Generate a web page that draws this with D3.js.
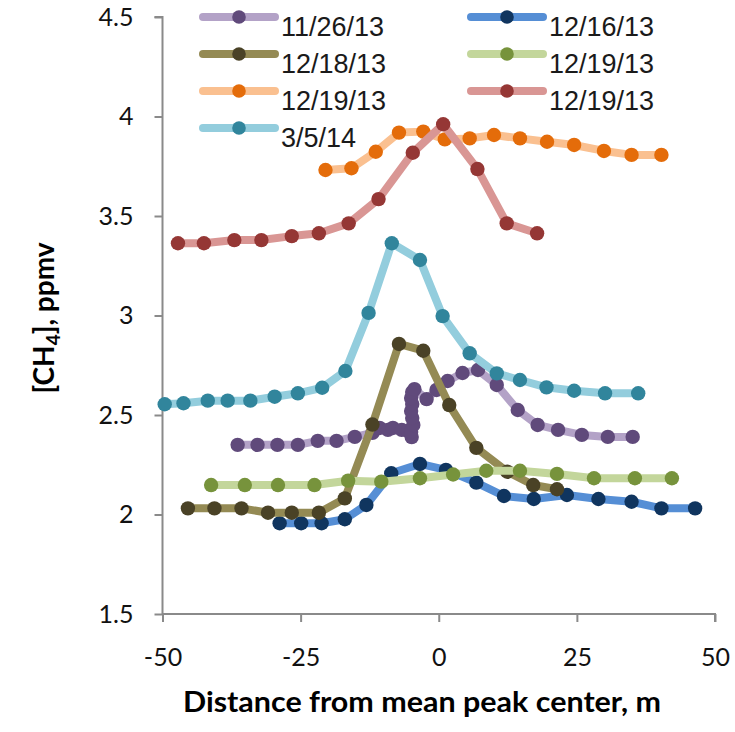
<!DOCTYPE html>
<html>
<head>
<meta charset="utf-8">
<script src="https://cdn.jsdelivr.net/npm/d3@7"></script>
<style>
  html, body { margin: 0; padding: 0; background: #fff; }
  svg { display: block; }
</style>
</head>
<body>
<div id="chart"></div>
<script>
// ---------------- data ----------------
const seriesNames = ["11/26/13", "12/16/13", "12/18/13", "12/19/13", "12/19/13", "12/19/13", "3/5/14"];

const x_1126 = [-36.4,-32.8,-29.2,-25.5,-21.9,-18.5,-15.2,-12.0,-10.7,-9.2,-8.3,-6.7,-5.6,-4.9,-5.0,-4.6,-4.8,-5.0,-4.8,-5.0,-4.8,-4.4,-2.2,-0.4,1.6,4.3,7.1,10.5,14.3,17.9,21.6,25.9,30.6,35.1];
const y_1126 = [2.35,2.35,2.35,2.35,2.37,2.37,2.39,2.41,2.435,2.425,2.435,2.425,2.42,2.389,2.415,2.45,2.485,2.52,2.555,2.585,2.615,2.63,2.58,2.626,2.671,2.711,2.726,2.651,2.525,2.45,2.425,2.40,2.39,2.39];

const x_1216 = [-28.8,-24.9,-21.2,-17.0,-13.1,-8.6,-3.4,1.3,6.8,11.8,17.2,23.2,28.9,34.9,40.3,46.4];
const y_1216 = [1.956,1.956,1.956,1.976,2.048,2.207,2.254,2.224,2.160,2.093,2.078,2.098,2.078,2.064,2.031,2.031];

const x_1218 = [-45.4,-40.6,-35.7,-30.9,-26.6,-21.7,-17.0,-12.0,-7.2,-2.8,1.9,6.8,12.4,17.1,21.4];
const y_1218 = [2.031,2.031,2.031,2.009,2.009,2.009,2.081,2.452,2.857,2.823,2.550,2.335,2.215,2.148,2.127];

const x_1219a = [-41.2,-35.1,-29.1,-22.5,-16.4,-10.4,-3.4,2.6,8.6,14.7,21.4,28.1,35.5,42.2];
const y_1219a = [2.148,2.148,2.148,2.148,2.170,2.165,2.182,2.201,2.220,2.220,2.204,2.182,2.182,2.182];

const x_1219b = [-20.5,-15.8,-11.4,-7.2,-2.8,1.1,5.6,10.0,14.7,19.6,24.5,29.9,34.9,40.3];
const y_1219b = [3.731,3.740,3.823,3.919,3.924,3.885,3.890,3.907,3.890,3.873,3.857,3.827,3.807,3.807];

const x_1219c = [-47.2,-42.5,-37.0,-32.1,-26.6,-21.7,-16.3,-10.9,-4.7,0.8,7.0,12.3,17.8];
const y_1219c = [3.363,3.363,3.379,3.379,3.399,3.413,3.463,3.585,3.818,3.961,3.736,3.463,3.413];

const x_0305 = [-49.6,-46.2,-41.8,-38.2,-34.1,-29.7,-25.5,-21.1,-16.9,-12.7,-8.5,-3.4,0.7,5.6,10.5,14.7,19.5,24.5,30.1,36.1];
const y_0305 = [2.554,2.559,2.572,2.572,2.572,2.592,2.609,2.637,2.721,3.013,3.363,3.279,2.997,2.810,2.709,2.676,2.639,2.622,2.609,2.609];

const xTicks = [-50, -25, 0, 25, 50];
const yTicks = [1.5, 2, 2.5, 3, 3.5, 4, 4.5];

const xTitle = "Distance from mean peak center, m";

// ---------------- styles ----------------
const lineColors   = ["#b3a2c7", "#558ed5", "#948a54", "#c3d69b", "#fac090", "#d99694", "#93cddd"];
const markerColors = ["#604a7b", "#10355f", "#4a4226", "#77933c", "#e46c0a", "#953735", "#31859c"];

const seriesX = [x_1126, x_1216, x_1218, x_1219a, x_1219b, x_1219c, x_0305];
const seriesY = [y_1126, y_1216, y_1218, y_1219a, y_1219b, y_1219c, y_0305];

const W = 735, H = 732;
const svg = d3.select("#chart").append("svg").attr("width", W).attr("height", H);

const x = d3.scaleLinear().domain([-50, 50]).range([162.5, 715]);
const y = d3.scaleLinear().domain([1.5, 4.5]).range([614, 17]);

const axisColor = "#8a8a8a";
const tickFont = "Lato, 'Open Sans', sans-serif";

// y axis
const gy = svg.append("g").attr("transform", `translate(${x(-50)},0)`)
  .call(d3.axisLeft(y).tickValues(yTicks).tickSize(8).tickPadding(21).tickFormat(d => String(d)));
// x axis
const gx = svg.append("g").attr("transform", `translate(0,${y(1.5)})`)
  .call(d3.axisBottom(x).tickValues(xTicks).tickSize(8).tickPadding(26).tickFormat(d => String(d)));

[gx, gy].forEach(g => {
  g.select(".domain").attr("stroke", axisColor).attr("stroke-width", 2);
  g.selectAll(".tick line").attr("stroke", axisColor).attr("stroke-width", 2);
  g.selectAll(".tick text").attr("fill", "#111").style("font-family", tickFont).style("font-size", "25px");
});
gy.select(".domain").attr("d", `M-8,${y(4.5)}H0V${y(1.5)}`);
gx.select(".domain").attr("d", `M${x(-50)},0H${x(50)}V8`);

// series
const line = d3.line().x(d => x(d[0])).y(d => y(d[1]));
seriesX.forEach((xs, i) => {
  const pts = xs.map((v, j) => [v, seriesY[i][j]]);
  const g = svg.append("g");
  g.append("path").datum(pts).attr("d", line)
    .attr("fill", "none").attr("stroke", lineColors[i]).attr("stroke-width", 8)
    .attr("stroke-linejoin", "round").attr("stroke-linecap", "round");
  g.selectAll("circle").data(pts).join("circle")
    .attr("cx", d => x(d[0])).attr("cy", d => y(d[1])).attr("r", 7.2)
    .attr("fill", markerColors[i]);
});

// legend
const legendCols = [203, 471];
const legendRow0 = 17, legendRowStep = 37;
const lg = svg.append("g");
seriesNames.forEach((name, i) => {
  const col = i % 2, row = Math.floor(i / 2);
  const lx = legendCols[col], ly = legendRow0 + row * legendRowStep;
  lg.append("line").attr("x1", lx).attr("x2", lx + 72).attr("y1", ly).attr("y2", ly)
    .attr("stroke", lineColors[i]).attr("stroke-width", 8).attr("stroke-linecap", "round");
  lg.append("circle").attr("cx", lx + 36).attr("cy", ly).attr("r", 6.8).attr("fill", markerColors[i]);
  lg.append("text").attr("x", lx + 78).attr("y", ly + 19)
    .style("font-family", "'Liberation Sans', Arial, sans-serif").style("font-size", "27px")
    .attr("fill", "#1a1a1a").text(name);
});

// axis titles
svg.append("text").attr("x", 422).attr("y", 712).attr("text-anchor", "middle")
  .style("font-family", "Lato, 'Open Sans', sans-serif").style("font-weight", "bold").style("font-size", "28px")
  .attr("textLength", 478).attr("lengthAdjust", "spacingAndGlyphs")
  .attr("fill", "#000").text(xTitle);

const yt = svg.append("text").attr("transform", "translate(54,318) rotate(-90)").attr("text-anchor", "middle")
  .style("font-family", "Lato, 'Open Sans', sans-serif").style("font-weight", "bold").style("font-size", "28px")
  .attr("fill", "#000");
yt.append("tspan").text("[CH");
yt.append("tspan").attr("dy", 6).style("font-size", "19px").text("4");
yt.append("tspan").attr("dy", -6).text("], ppmv");
</script>
</body>
</html>
